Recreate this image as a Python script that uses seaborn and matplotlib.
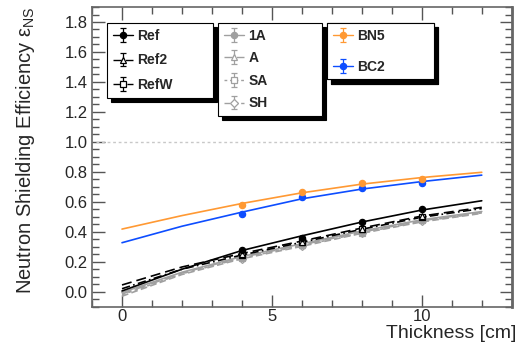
import numpy as np
import pandas as pd
import matplotlib
matplotlib.use("Agg")
import matplotlib.pyplot as plt
import seaborn as sns
from matplotlib.ticker import MultipleLocator, FormatStrFormatter

sns.set_style("white")
plt.rcParams['font.family'] = ['Liberation Sans', 'DejaVu Sans']
plt.rcParams['mathtext.fontset'] = 'custom'
plt.rcParams['mathtext.rm'] = 'Liberation Sans'
plt.rcParams['mathtext.it'] = 'Liberation Sans:italic'

# ---- data ----
thickness = [4, 6, 8, 10]
ref = [0.278, 0.360, 0.467, 0.549]
ref2 = [0.250, 0.335, 0.420, 0.505]
refw = [0.245, 0.330, 0.417, 0.500]
s1a = [0.235, 0.320, 0.405, 0.490]
sa_ = [0.230, 0.315, 0.400, 0.485]
ssa = [0.225, 0.310, 0.395, 0.480]
ssh = [0.220, 0.305, 0.390, 0.475]
bn5 = [0.578, 0.663, 0.727, 0.752]
bc2 = [0.516, 0.633, 0.689, 0.727]
err_ref = [0.020, 0.015, 0.015, 0.012]
err_other = [0.015, 0.012, 0.012, 0.010]
err_bn = [0.008, 0.008, 0.008, 0.008]

fit_x = [0, 2, 4, 6, 8, 10, 12]
fit_ref = [0.005, 0.150, 0.275, 0.373, 0.465, 0.545, 0.607]
fit_ref2 = [0.045, 0.165, 0.255, 0.338, 0.425, 0.505, 0.563]
fit_refw = [0.020, 0.150, 0.245, 0.330, 0.417, 0.497, 0.555]
fit_1a = [-0.005, 0.130, 0.235, 0.320, 0.405, 0.480, 0.535]
fit_a = [-0.015, 0.125, 0.230, 0.313, 0.398, 0.474, 0.530]
fit_sa = [-0.020, 0.120, 0.225, 0.308, 0.393, 0.470, 0.526]
fit_sh = [-0.030, 0.115, 0.220, 0.303, 0.390, 0.466, 0.523]
fit_bn5 = [0.418, 0.508, 0.589, 0.660, 0.718, 0.762, 0.797]
fit_bc2 = [0.327, 0.437, 0.531, 0.620, 0.685, 0.735, 0.778]

BLACK = '#000000'
GREY = '#a0a0a0'
ORANGE = '#ff9933'
BLUE = '#0d4dff'

series = [
    # name, points, err, fit, color, linestyle, marker, filled
    ('Ref', ref, err_ref, fit_ref, BLACK, '-', 'o', True),
    ('Ref2', ref2, err_other, fit_ref2, BLACK, (0, (6, 3)), '^', False),
    ('RefW', refw, err_other, fit_refw, BLACK, (0, (5, 2, 1, 2)), 's', False),
    ('1A', s1a, err_other, fit_1a, GREY, '-', 'o', True),
    ('A', sa_, err_other, fit_a, GREY, (0, (6, 3)), '^', False),
    ('SA', ssa, err_other, fit_sa, GREY, (0, (2, 2)), 's', False),
    ('SH', ssh, err_other, fit_sh, GREY, (0, (4, 2)), 'D', False),
    ('BN5', bn5, err_bn, fit_bn5, ORANGE, '-', 'o', True),
    ('BC2', bc2, err_bn, fit_bc2, BLUE, '-', 'o', True),
]

fig = plt.figure(figsize=(5.19, 3.49), dpi=100)
ax = fig.add_axes([0.1773, 0.1212, 0.8087, 0.8587])

handles = {}
for name, pts, err, fit, col, ls, mk, filled in reversed(series):
    fdf = pd.DataFrame({'x': fit_x, 'y': fit})
    sns.lineplot(data=fdf, x='x', y='y', ax=ax, color=col, linestyle=ls,
                 lw=1.2, errorbar=None)
    ax.errorbar(thickness, pts, yerr=err, fmt=mk, color=col, ms=4.5,
                mfc=col if filled else 'white', mec=col, mew=0.9,
                elinewidth=0.9, capsize=0, zorder=3)
    h = ax.errorbar([np.nan], [np.nan], yerr=[0.1], fmt=mk, color=col,
                    linestyle=ls, lw=1.0, ms=4.5,
                    mfc=col if filled else 'white', mec=col, mew=0.9,
                    elinewidth=0.9, capsize=2.5)
    handles[name] = h

ax.axhline(1.0, color='#c8c8c8', lw=1.0, ls=(0, (2, 2)), xmin=0.01, xmax=0.985)

ax.set_xlim(-1, 13)
ax.set_ylim(-0.1, 1.9)
ax.xaxis.set_major_locator(MultipleLocator(5))
ax.xaxis.set_minor_locator(MultipleLocator(1))
ax.yaxis.set_major_locator(MultipleLocator(0.2))
ax.yaxis.set_minor_locator(MultipleLocator(0.05))
ax.yaxis.set_major_formatter(FormatStrFormatter('%.1f'))
ax.set_yticks(np.arange(0, 1.81, 0.2))

ax.tick_params(which='both', direction='in', top=True, right=True,
               bottom=True, left=True, color='#555555', labelsize=12)
ax.tick_params(which='major', length=9, width=1.0)
ax.tick_params(which='minor', length=5, width=1.0)
ax.tick_params(axis='x', which='major', pad=2)
ax.tick_params(axis='y', which='major', pad=3)
for s in ax.spines.values():
    s.set_color('#666666')
    s.set_linewidth(1.2)
    s.set_visible(True)
ax.spines['right'].set_linewidth(2.0)

ax.set_xlabel('Thickness [cm]', fontsize=14, loc='right')
ax.xaxis.set_label_coords(1.012, -0.062)
ax.set_ylabel('Neutron Shielding Efficiency ε$_{\\rm NS}$', fontsize=14.5, loc='top')
ax.yaxis.set_label_coords(-0.13, 1.0)

shadow = {'ox': 3, 'oy': -3, 'facecolor': 'black', 'edgecolor': 'black', 'alpha': 1}
groups = [
    (['Ref', 'Ref2', 'RefW'], (107, 23, 106), 0.78),
    (['1A', 'A', 'SA', 'SH'], (218, 23, 104), 0.62),
    (['BN5', 'BC2'], (327, 23, 107), 1.25),
]
W, H = 519, 349
for names, (lx, ty, w), sp in groups:
    leg = ax.legend([handles[n] for n in names], names,
                    bbox_to_anchor=(lx / W, 1 - ty / H, w / W, 0.0),
                    bbox_transform=fig.transFigure, loc='upper left',
                    mode='expand', borderaxespad=0, frameon=True,
                    fancybox=False, shadow=shadow, framealpha=1,
                    edgecolor='black', prop={'weight': 'bold', 'size': 10},
                    labelspacing=sp, handlelength=1.5, handletextpad=0.3,
                    borderpad=0.4)
    leg.get_frame().set_linewidth(0.8)
    ax.add_artist(leg)

fig.savefig('out.png', dpi=100)
